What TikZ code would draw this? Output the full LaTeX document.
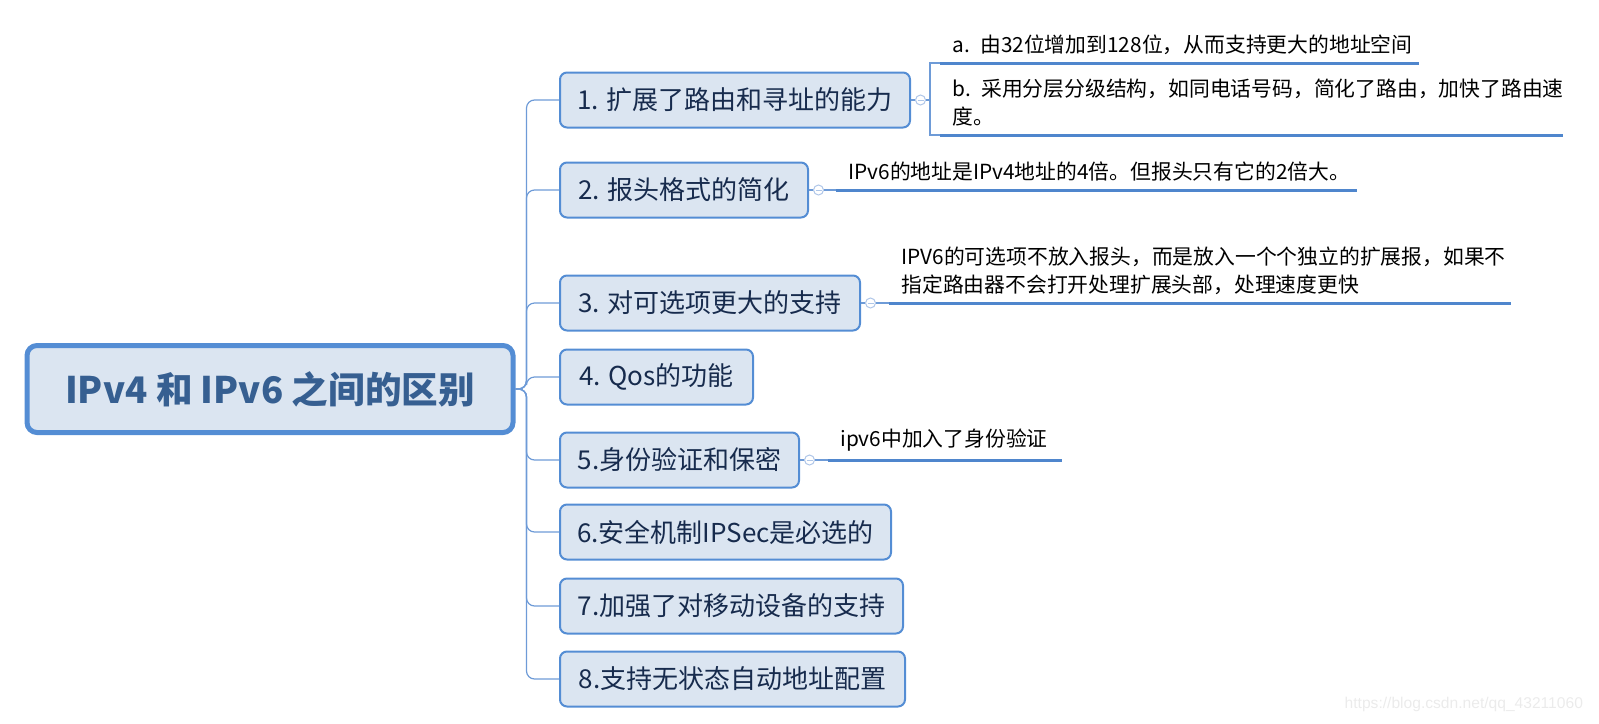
\documentclass[tikz,border=0pt]{standalone}
\usepackage{fontspec}
\setmainfont{Noto Sans CJK SC}
\newfontfamily\filigrane{Liberation Sans}
\usetikzlibrary{positioning}
\definecolor{cbord}{RGB}{84,141,212}%bord des cadres
\definecolor{cfond}{RGB}{219,229,241}%fond des cadres
\definecolor{cencre}{RGB}{23,43,77}%texte des branches
\definecolor{ctitre}{RGB}{54,95,145}%texte du titre
\definecolor{ctrait}{RGB}{79,134,205}%soulignement
\definecolor{clien}{RGB}{110,155,215}%liens
\definecolor{cpli}{RGB}{175,198,232}%petits cercles
\begin{document}
\begin{tikzpicture}[x=0.5pt,y=-0.5pt,
 racine/.style={draw=cbord,line width=2.5pt,fill=cfond,rounded corners=5pt,minimum width=243pt,minimum height=43.5pt,text=ctitre,font=\fontsize{18.3}{21}\selectfont\bfseries},
 branche/.style={draw=cbord,line width=1pt,fill=cfond,rounded corners=3.5pt,minimum height=27.5pt,anchor=west,text=cencre,font=\fontsize{13}{15}\selectfont},
 feuille/.style={anchor=south west,align=left,inner xsep=6pt,inner ysep=4pt,font=\fontsize{10.4}{14}\selectfont},
 souligne/.style={draw=ctrait,line width=1.5pt},
 lien/.style={draw=clien,line width=0.6pt,rounded corners=4pt},
 pli/.style={circle,draw=cpli,line width=0.5pt,fill=white,minimum size=5pt,inner sep=0pt,right=2pt of #1,
  path picture={\draw[cpli,line width=0.4pt] ([xshift=-1.5pt]path picture bounding box.center) -- ([xshift=1.5pt]path picture bounding box.center);}}]
\useasboundingbox (0,0) rectangle (1599,723);
\node[racine] (racine) at (270,389) {IPv4 和 IPv6 之间的区别};
%branches
\node[branche,minimum width=175pt] (c1) at (559,100) {1. 扩展了路由和寻址的能力};
\node[branche,minimum width=124pt] (c2) at (559,190) {2. 报头格式的简化};
\node[branche,minimum width=150pt] (c3) at (559,303) {3. 对可选项更大的支持};
\node[branche,minimum width=96.5pt] (c4) at (559,377) {4. Qos的功能};
\node[branche,minimum width=119.5pt] (c5) at (559,460) {5.身份验证和保密};
\node[branche,minimum width=165.5pt] (c6) at (559,532) {6.安全机制IPSec是必选的};
\node[branche,minimum width=171.5pt] (c7) at (559,606) {7.加强了对移动设备的支持};
\node[branche,minimum width=172.5pt] (c8) at (559,679) {8.支持无状态自动地址配置};
\foreach \i in {1,...,8} \draw[lien] (racine.east) -- ++(11,0) |- (c\i.west);
%feuilles
\node[feuille,text width=227pt] (fa) at (940,63) {\mbox{a. 由32位增加到128位，从而支持更大的地址空间}};
\node[feuille,text width=299pt] (fb) at (940,135) {\mbox{b. 采用分层分级结构，如同电话号码，简化了路由，加快了路由速}\\度。};
\node[feuille,text width=248pt] (f2) at (836,190) {\mbox{IPv6的地址是IPv4地址的4倍。但报头只有它的2倍大。}};
\node[feuille,text width=298.5pt] (f3) at (889,303) {\mbox{IPV6的可选项不放入报头，而是放入一个个独立的扩展报，如果不}\\指定路由器不会打开处理扩展头部，处理速度更快};
\node[feuille,text width=104.5pt] (f5) at (828,460) {\mbox{ipv6中加入了身份验证}};
\foreach \f in {fa,fb,f2,f3,f5} \draw[souligne] (\f.south west) -- (\f.south east);
%petits cercles
\node[pli=c1] (p1) {};
\node[pli=c2] (p2) {};
\node[pli=c3] (p3) {};
\node[pli=c5] (p5) {};
\foreach \i in {1,2,3,5} \draw[clien,line width=0.6pt] (c\i.east) -- (p\i.west);
\coordinate (k1) at (930,100);%accolade
\draw[clien,line width=0.6pt] (p1.east) -- (k1);
\draw[clien,line width=0.6pt] (fa.south west) -| (k1) |- (fb.south west);
\draw[clien,line width=0.6pt] (p2.east) -- (f2.south west);
\draw[clien,line width=0.6pt] (p3.east) -- (f3.south west);
\draw[clien,line width=0.6pt] (p5.east) -- (f5.south west);
\node[anchor=east,text=black!8,font=\filigrane\fontsize{7.8}{9}\selectfont] (wm) at (1590,704) {https://blog.csdn.net/qq\_43211060};
\end{tikzpicture}
\end{document}
